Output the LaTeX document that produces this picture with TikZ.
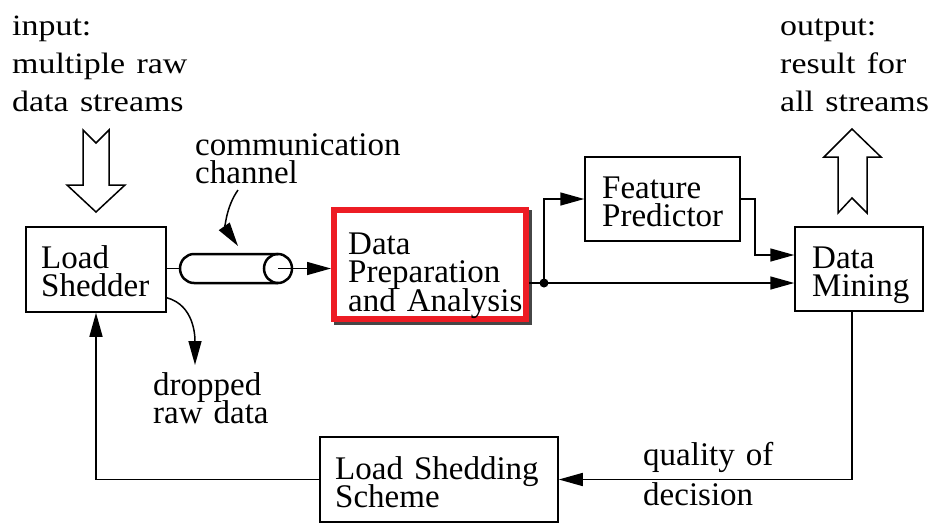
\documentclass[tikz,border=0pt]{standalone}
\usepackage{fontspec}
\setmainfont{Liberation Serif}
\usetikzlibrary{arrows.meta,calc}
\definecolor{redbox}{RGB}{237,28,36}
\definecolor{shadowgray}{RGB}{70,70,70}
\newcommand\mytightskip{\lineskiplimit=-100pt\relax}
\newcommand\mywide[1]{\scalebox{1.15}[1]{#1}}
\begin{document}
\begin{tikzpicture}[x=1pt,y=-1pt,
  box/.style={draw, line width=1.5pt, inner sep=0pt},
  ln/.style={line width=1.5pt},
  arr/.style={line width=1.5pt, -{Triangle[length=24pt,width=13pt]}},
  txt/.style={font=\fontsize{33}{28.5}\selectfont\mytightskip, anchor=base west, inner sep=0pt, text width=260pt, align=left},
  qtxt/.style={font=\fontsize{33}{40}\selectfont\mytightskip, anchor=base west, inner sep=0pt, text width=200pt, align=left},
  toptxt/.style={font=\fontsize{29.5}{38}\selectfont\mytightskip, anchor=base west, inner sep=0pt, text width=200pt, align=left},
  hollow/.style={draw, line width=1.5pt, fill=white, line join=miter}]
\fill[white] (0,0) rectangle (930,531);
\useasboundingbox (0,0) rectangle (930,531);

% boxes
\node[box, minimum width=140pt, minimum height=85pt] (ls) at (96,269.5) {};
\node[box, minimum width=155pt, minimum height=84pt] (fp) at (662.5,199) {};
\node[box, minimum width=128pt, minimum height=84pt] (dm) at (859,269) {};
\node[box, minimum width=238pt, minimum height=85pt] (lss) at (439,479.5) {};
\fill[shadowgray] (334,210) rectangle (531.5,324.5);
\node[draw=redbox, fill=white, line width=6pt, inner sep=0pt, minimum width=192pt, minimum height=109pt] (dp) at (430,264.5) {};

% texts in boxes
\node[txt] (lsT) at (41,268) {Load\\Shedder};
\node[txt] (dpT) at (348,254) {Data\\Preparation\\and Analysis};
\node[txt] (fpT) at (602,198) {Feature\\Predictor};
\node[txt] (dmT) at (812,268) {Data\\Mining};
\node[txt] (lssT) at (335,479) {Load Shedding\\Scheme};

% free labels
\node[qtxt] (qT) at (643,465) {quality of\\decision};
\node[txt] (drT) at (153,395) {dropped\\raw data};
\node[txt] (cmT) at (195,155) {communication\\channel};
\node[toptxt] (inT) at (12,35) {\mywide{input:}\\\mywide{multiple raw}\\\mywide{data streams}};
\node[toptxt] (outT) at (780,35) {\mywide{output:}\\\mywide{result for}\\\mywide{all streams}};

% hollow arrows
\draw[hollow] (83,130) -- (96,143) -- (109,130) -- (109,185) -- (125,185) -- (96,212) -- (67,185) -- (83,185) -- cycle;
\draw[hollow] (852,129) -- (881,157) -- (867,157) -- (867,213) -- (852,198) -- (838,213) -- (838,157) -- (824,157) -- cycle;

% channel
\coordinate (chW) at (180,268.5);
\coordinate (chE) at (278,268.5);
\draw[line width=2.5pt] (278,254) -- (194,254) arc[start angle=270, end angle=90, x radius=14, y radius=14.5] -- (278,283);
\draw[line width=2.5pt] (chE) ellipse[x radius=14, y radius=14.5];
\draw[ln] (ls.east |- chW) -- (chW);
\draw[arr] (chE) -- (chE -| dp.west);

% communication label arrow
\coordinate (c1) at (238,190);
\coordinate (c2) at (238,246);
\draw[arr] (c1) to[out=235,in=125] (c2);

% dropped
\coordinate (d2) at (195,365);
\draw[arr] ([yshift=15pt]ls.south east) to[out=-15,in=90] (d2);

% junction
\coordinate (j) at (544,283);
\draw[ln] (dp.east |- j) -- (j);
\fill (j) circle (4.5);
\draw[arr] (j) -- (j -| dm.west);
\draw[arr] (j) |- (fp.west);
\draw[arr] (fp.east) -- ++(14,0) |- ([yshift=14pt]dm.west);

% feedback
\draw[arr] ([xshift=-7pt]dm.south) |- (lss.east);
\draw[arr] (lss.west) -| (ls.south);
\end{tikzpicture}
\end{document}
